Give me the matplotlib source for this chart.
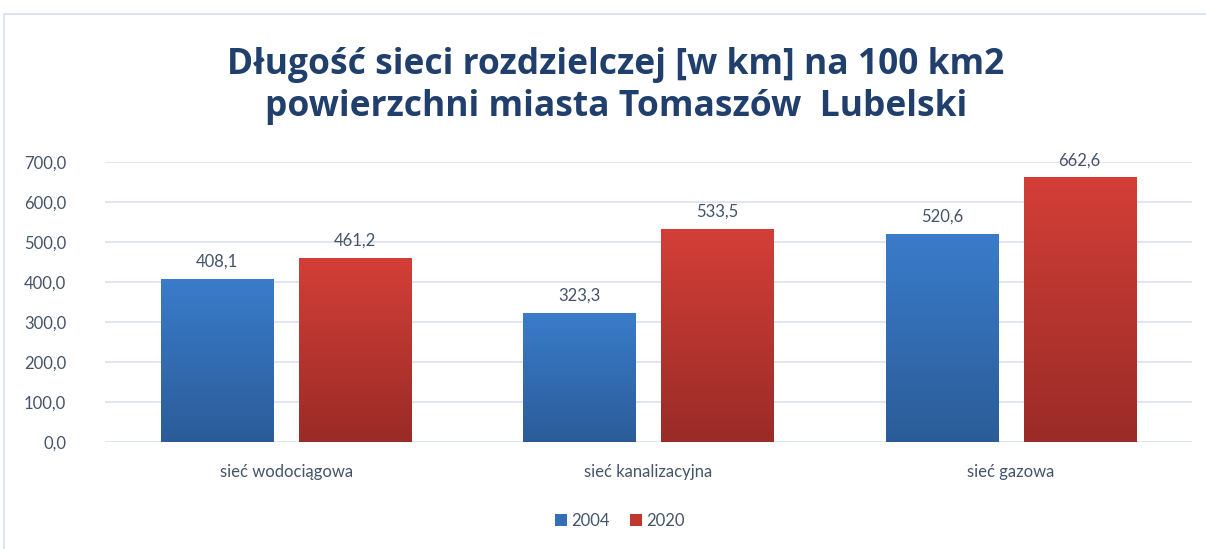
import matplotlib.pyplot as plt
from matplotlib.patches import Rectangle
from matplotlib.colors import LinearSegmentedColormap
import numpy as np

plt.rcParams['font.family'] = ['Lato', 'DejaVu Sans']

categories = ['sieć wodociągowa', 'sieć kanalizacyjna', 'sieć gazowa']
years = ['2004', '2020']
v2004 = [408.1, 323.3, 520.6]
v2020 = [461.2, 533.5, 662.6]
yticks = [0, 100, 200, 300, 400, 500, 600, 700]

txt = '#44546a'
fig = plt.figure(figsize=(12.06, 5.49), dpi=100)
fig.patches.append(Rectangle((4 / 1206, -0.01), 1.02, 1 - 14 / 549 + 0.01,
                             transform=fig.transFigure, fill=False,
                             edgecolor='#d6e0f0', linewidth=1.2))
ax = fig.add_axes([105 / 1206, 1 - 442 / 549, (1192 - 105) / 1206, (442 - 162) / 549])

x = np.arange(len(categories))
w = 0.31
off = 0.19

def gradient_bars(bars, top, bottom):
    grad = np.linspace(0, 1, 256).reshape(-1, 1)
    cmap = LinearSegmentedColormap.from_list('g', [bottom, top])
    for b in bars:
        x0, y0 = b.get_x(), b.get_y()
        im = ax.imshow(grad, extent=[x0, x0 + b.get_width(), y0, y0 + b.get_height()],
                       origin='lower', aspect='auto', cmap=cmap, zorder=3)
        im.set_clip_path(b)

b1 = ax.bar(x - off, v2004, w, color='#3370b8', label=years[0], zorder=2)
b2 = ax.bar(x + off, v2020, w, color='#c0372f', label=years[1], zorder=2)
gradient_bars(b1, '#3a7cca', '#2b5c98')
gradient_bars(b2, '#d33f38', '#9a2b27')

for bars, vals in ((b1, v2004), (b2, v2020)):
    for b, v in zip(bars, vals):
        ax.text(b.get_x() + b.get_width() / 2, v + 22, f'{v:.1f}'.replace('.', ','),
                ha='center', va='bottom', fontsize=12, color=txt)

ax.set_xlim(-0.5, 2.5)
ax.set_ylim(0, 700)
ax.set_yticks(yticks)
ax.set_yticklabels([f'{t:.1f}'.replace('.', ',') for t in yticks])
ax.set_xticks(x)
ax.set_xticklabels(categories)
ax.tick_params(axis='both', length=0, labelsize=12, labelcolor=txt)
ax.tick_params(axis='x', pad=16)
ax.tick_params(axis='y', pad=28)
ax.grid(axis='y', color='#d9e2f1', linewidth=1.2, zorder=0)
ax.set_axisbelow(True)
for s in ax.spines.values():
    s.set_visible(False)

fig.text(616 / 1206, 1 - 86 / 549, 'Długość sieci rozdzielczej [w km] na 100 km2\npowierzchni miasta Tomaszów  Lubelski',
         ha='center', va='center', fontsize=25.5, fontweight='bold', color='#203f6c',
         linespacing=1.22, family=['Open Sans', 'DejaVu Sans'])

fig.legend(loc='center', bbox_to_anchor=(620 / 1206, 1 - 521 / 549), ncol=2,
           frameon=False, fontsize=12, handlelength=0.7, handleheight=0.7,
           columnspacing=1.2, handletextpad=0.3, labelcolor=txt)

fig.savefig('out.png', dpi=100, facecolor='white')
